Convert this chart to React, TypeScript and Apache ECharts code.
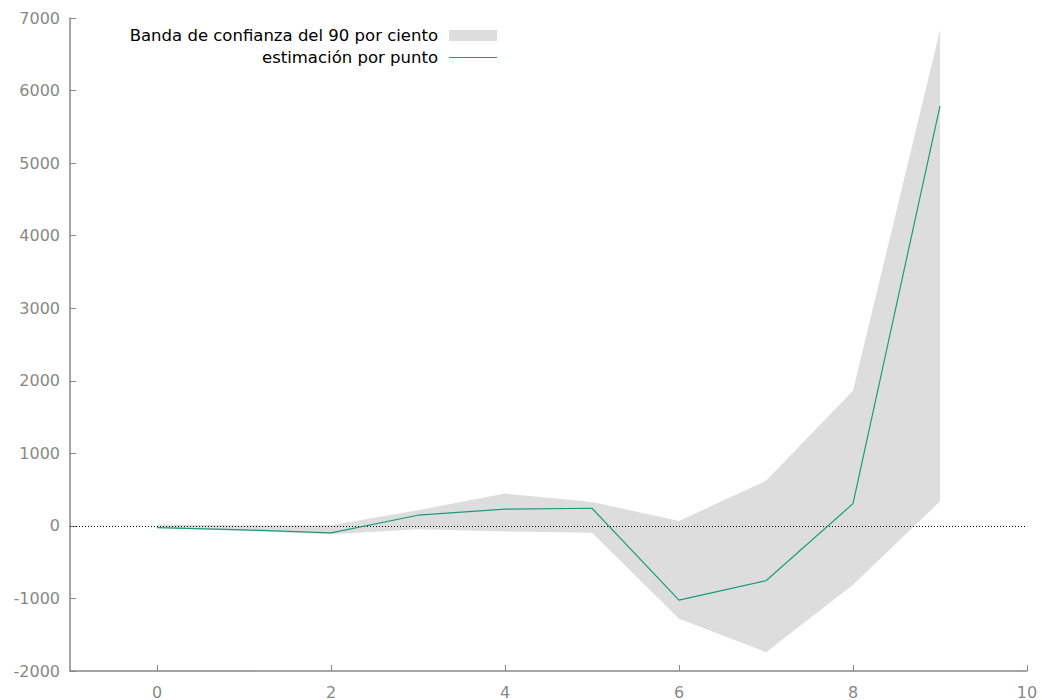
import React, { useEffect, useRef } from "react";
import * as echarts from "echarts";

// Horizon (periods) and the point estimate with its 90% confidence band
const horizon = [0, 1, 2, 3, 4, 5, 6, 7, 8, 9];
const pointEstimate = [-23, -55, -96, 147, 230, 243, -1023, -756, 307, 5790];
const bandLower = [-30, -70, -115, -46, -78, -96, -1280, -1740, -812, 338];
const bandUpper = [18, 10, 9, 216, 445, 330, 68, 621, 1863, 6830];

const xTicks = [0, 2, 4, 6, 8, 10];

const BAND_NAME = "Banda de confianza del 90 por ciento";
const LINE_NAME = "estimación por punto";

const FONT = "DejaVu Sans, Verdana, sans-serif";
const AXIS_GREY = "#888888";
const BAND_FILL = "#dddddd";
const LINE_GREEN = "#1b9e77";

const legendText = {
  fontSize: 16.5,
  color: "#000000",
  fontFamily: FONT,
  padding: [0, 6, 0, 0],
};

export default function App() {
  const ref = useRef<HTMLDivElement>(null);

  useEffect(() => {
    if (!ref.current) return;
    const chart = echarts.init(ref.current, undefined, { renderer: "svg" });

    const bandData = horizon.map((x, i) => [x, bandLower[i], bandUpper[i]]);
    const lineData = horizon.map((x, i) => [x, pointEstimate[i]]);

    const option: any = {
      animation: false,
      backgroundColor: "#ffffff",
      textStyle: { fontFamily: FONT },
      grid: { left: 70, right: 15, top: 18, bottom: 29, containLabel: false },
      legend: [
        {
          data: [{ name: BAND_NAME, icon: "rect" }],
          align: "right",
          orient: "vertical",
          right: 545,
          top: 27,
          padding: 0,
          itemWidth: 48,
          itemHeight: 11,
          selectedMode: false,
          textStyle: legendText,
        },
        {
          // thin filled bar stands in for the line sample
          data: [{ name: LINE_NAME, icon: "rect" }],
          align: "right",
          orient: "vertical",
          right: 545,
          top: 49,
          padding: 0,
          itemWidth: 48,
          itemHeight: 1.2,
          selectedMode: false,
          itemStyle: { color: LINE_GREEN, borderWidth: 0 },
          textStyle: legendText,
        },
      ],
      xAxis: {
        type: "value",
        min: -1,
        max: 10,
        splitLine: { show: false },
        axisLine: { show: true, onZero: false, lineStyle: { color: AXIS_GREY, width: 1.5 } },
        axisTick: {
          show: true,
          inside: true,
          length: 6,
          customValues: xTicks,
          lineStyle: { color: AXIS_GREY },
        },
        axisLabel: {
          customValues: xTicks,
          color: AXIS_GREY,
          fontSize: 16,
          fontFamily: FONT,
          margin: 13,
          formatter: (v: number) => String(v),
        },
      },
      yAxis: {
        type: "value",
        min: -2000,
        max: 7000,
        interval: 1000,
        splitLine: { show: false },
        axisLine: { show: true, onZero: false, lineStyle: { color: AXIS_GREY, width: 1.5 } },
        axisTick: { show: true, inside: true, length: 6, lineStyle: { color: AXIS_GREY } },
        axisLabel: {
          color: AXIS_GREY,
          fontSize: 16,
          fontFamily: FONT,
          margin: 10,
          formatter: (v: number) => String(v),
        },
      },
      series: [
        {
          name: BAND_NAME,
          type: "custom",
          data: bandData,
          itemStyle: { color: BAND_FILL },
          z: 1,
          silent: true,
          renderItem: (params: any, api: any) => {
            if (params.dataIndex !== 0) return null;
            const upper = bandData.map((d) => api.coord([d[0], d[2]]));
            const lower = bandData
              .slice()
              .reverse()
              .map((d) => api.coord([d[0], d[1]]));
            return {
              type: "polygon",
              shape: { points: upper.concat(lower) },
              style: { fill: BAND_FILL, stroke: "none" },
            };
          },
        },
        {
          name: LINE_NAME,
          type: "line",
          data: lineData,
          showSymbol: false,
          symbol: "none",
          z: 3,
          silent: true,
          lineStyle: { color: LINE_GREEN, width: 1.2 },
          itemStyle: { color: LINE_GREEN },
          markLine: {
            silent: true,
            symbol: ["none", "none"],
            label: { show: false },
            lineStyle: { color: "#000000", type: [1, 2], width: 1 },
            data: [{ yAxis: 0 }],
            z: 2,
          },
        },
      ],
    };

    chart.setOption(option);
    return () => chart.dispose();
  }, []);

  return (
    <div
      ref={ref}
      style={{ position: "fixed", left: 0, top: 0, width: 1042, height: 700, background: "#fff" }}
    />
  );
}
